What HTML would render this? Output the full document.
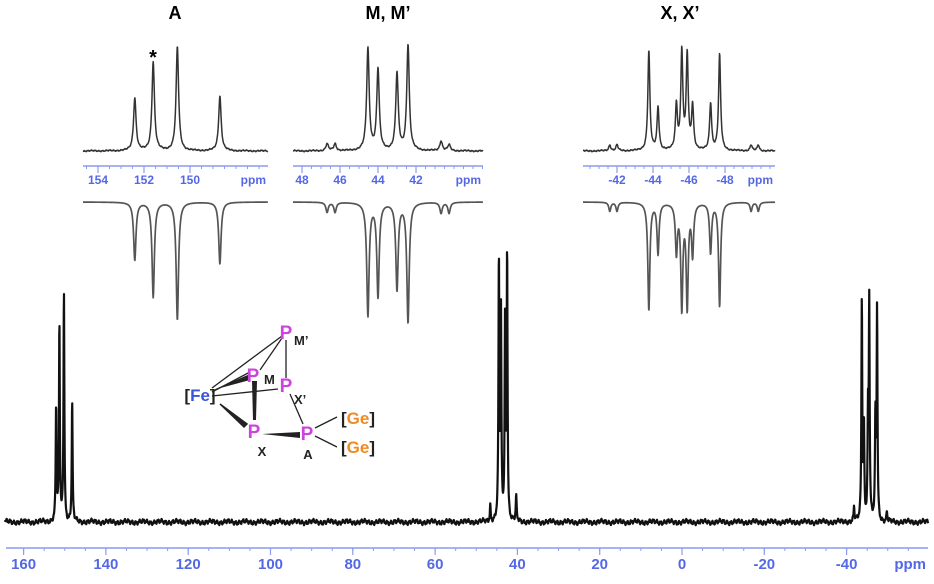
<!DOCTYPE html>
<html><head><meta charset="utf-8"><style>
html,body{margin:0;padding:0;background:#fff;}
svg{display:block;font-family:"Liberation Sans",Arial,sans-serif;}
</style></head><body>
<svg id="chart" width="934" height="584" viewBox="0 0 934 584" xmlns="http://www.w3.org/2000/svg">
<g id="g-main"></g>
<g id="g-insets"></g>
<g id="g-axes"></g>
<text x="175" y="19" font-size="18" font-weight="bold" text-anchor="middle">A</text>
<text x="388" y="19" font-size="18" font-weight="bold" text-anchor="middle">M, M’</text>
<text x="680" y="19" font-size="18" font-weight="bold" text-anchor="middle">X, X’</text>
<text x="153" y="64" font-size="20" font-weight="bold" text-anchor="middle">*</text>
<g stroke="#222" stroke-width="1.3" fill="none">
<line x1="212" y1="388" x2="282" y2="336"/><line x1="260" y1="370" x2="282" y2="338"/><line x1="286" y1="340" x2="286" y2="378"/>
<line x1="212" y1="392" x2="250" y2="372"/><line x1="212" y1="396" x2="278" y2="389"/>
<line x1="290" y1="394" x2="303" y2="424"/><line x1="315" y1="428" x2="337" y2="417"/><line x1="315" y1="436" x2="337" y2="447"/>
<polygon points="213,390 250,374 250,380" fill="#222" stroke="none"/>
<polygon points="252,381 257,381 256,420 253,420" fill="#222" stroke="none"/>
<polygon points="220,404 247,424 244,427" fill="#222" stroke="#222" stroke-width="1.5"/>
<polygon points="262,434 300,432 300,438" fill="#222" stroke="none"/>
</g>
<g font-weight="bold">
<text x="286" y="339" font-size="19" fill="#cc44dd" text-anchor="middle">P</text>
<text x="294" y="345" font-size="13" fill="#222">M’</text>
<text x="253" y="382" font-size="19" fill="#cc44dd" text-anchor="middle">P</text>
<text x="264" y="384" font-size="13" fill="#222">M</text>
<text x="286" y="392" font-size="19" fill="#cc44dd" text-anchor="middle">P</text>
<text x="294" y="404" font-size="13" fill="#222">X’</text>
<text x="254" y="438" font-size="19" fill="#cc44dd" text-anchor="middle">P</text>
<text x="262" y="456" font-size="13" fill="#222" text-anchor="middle">X</text>
<text x="307" y="440" font-size="19" fill="#cc44dd" text-anchor="middle">P</text>
<text x="308" y="459" font-size="13" fill="#222" text-anchor="middle">A</text>
<text x="200" y="401" font-size="17" text-anchor="middle"><tspan fill="#222">[</tspan><tspan fill="#3a55dd">Fe</tspan><tspan fill="#222">]</tspan></text>
<text x="358" y="424" font-size="17" text-anchor="middle"><tspan fill="#222">[</tspan><tspan fill="#f08a24">Ge</tspan><tspan fill="#222">]</tspan></text>
<text x="358" y="453" font-size="17" text-anchor="middle"><tspan fill="#222">[</tspan><tspan fill="#f08a24">Ge</tspan><tspan fill="#222">]</tspan></text>
</g>
</svg>
<script>
// main spectrum data
const mainPpm = [152.1,151.3,150.2,148.2, 46.6,44.5,44.0,43.0,42.5,40.3, -41.8,-43.7,-44.2,-45.2,-45.5,-47.0,-47.4,-49.8];
const mainHeights = [115,197,231,120, 16,260,206,195,271,25, 14,222,94,99,217,101,213,10];
const mainTicks = [160,140,120,100,80,60,40,20,0,-20,-40];
// inset A
const aPpm = [152.4,151.6,150.55,148.7];
const aUpper = [53,89,104,55];
const aLower = [58,95,118,62];
const aTicks = [154,152,150];
// inset M
const mPpm = [46.68,46.26,44.53,44.0,43.0,42.42,40.68,40.26];
const mUpper = [7,7,102,81,77,106,10,6];
const mLower = [10,10,113,94,87,120,11,11];
const mTicks = [48,46,44,42];
// inset X
const xPpm = [-41.6,-42.0,-43.77,-44.28,-45.3,-45.6,-45.9,-46.2,-47.2,-47.7,-49.45,-49.85];
const xUpper = [6,6,100,43,45,98,94,44,47,96,6,6];
const xLower = [9,9,108,51,49,104,103,51,50,104,9,9];
const xTicks = [-42,-44,-46,-48];

const NS="http://www.w3.org/2000/svg";
function mk(tag, attrs, parent){const e=document.createElementNS(NS,tag);for(const k in attrs)e.setAttribute(k,attrs[k]);parent.appendChild(e);return e;}
function scale(p0,x0,p1,x1){const f=p=>x0+(p-p0)*(x1-x0)/(p1-p0);f.inv=x=>p0+(x-x0)*(p1-p0)/(x1-x0);return f;}

function trace(g, sx, xa, xb, base, sign, ppm, hts, hw, noise, step, stroke, sw, name){
  let d="";
  for(let x=xa;x<=xb;x+=step){
    let y=0;
    for(let i=0;i<ppm.length;i++){const dx=x-sx(ppm[i]);y+=hts[i]*hw*hw/(dx*dx+hw*hw);}
    const n=noise?noise*(Math.sin(x*1.7)*0.5+Math.sin(x*4.3+1)*0.35+Math.sin(x*0.37+2)*0.4):0;
    d+=(d?"L":"M")+x.toFixed(2)+","+(base-sign*y+n).toFixed(2);
  }
  const p=mk("path",{d:d,fill:"none",stroke:stroke,"stroke-width":sw,"stroke-linejoin":"round"},g);
  
  
}

function axis(g, sx, xa, xb, y, ticks, minor, fs, name){
  const blue="#5468e6";
  const ax=mk("line",{x1:xa,y1:y,x2:xb,y2:y,stroke:"#8c9aef","stroke-width":1.5},g);
  
  
  const p0=sx.inv(xa),p1=sx.inv(xb);
  const hi=Math.max(p0,p1),lo=Math.min(p0,p1);
  for(let v=Math.ceil(lo/minor)*minor;v<=hi;v+=minor){
    const x=sx(v);
    const t=mk("line",{x1:x,y1:y,x2:x,y2:y+3,stroke:"#8c9aef","stroke-width":1},g);
    
    
  }
  ticks.forEach(v=>{
    const x=sx(v);
    const t=mk("line",{x1:x,y1:y,x2:x,y2:y+7,stroke:"#8c9aef","stroke-width":1.2},g);
    
    
    const tx=mk("text",{x:x,y:y+fs+6,"font-size":fs,"font-weight":"bold",fill:blue,"text-anchor":"middle"},g);
    tx.textContent=String(v);
    
    
  });
  const u=mk("text",{x:xb-2,y:y+fs+6,"font-size":fs,"font-weight":"bold",fill:blue,"text-anchor":"end"},g);
  u.textContent="ppm";
  
  
}

const gm=document.getElementById("g-main"), gi=document.getElementById("g-insets"), ga=document.getElementById("g-axes");
// main
const sMain=scale(0,682,100,682-411.5);
trace(gm,sMain,5,928,522,1,mainPpm,mainHeights,0.5,2.6,0.25,"#111",2.2,"main-trace");
axis(ga,sMain,6,928,548,mainTicks,5,15,"main-axis");
// inset A
const sA=scale(152,144,150,190);
trace(gi,sA,83,268,151,1,aPpm,aUpper,1.5,0.8,0.3,"#333",1.5,"inset-a-upper-trace");
trace(gi,sA,83,268,202,-1,aPpm,aLower,1.4,0,0.3,"#555",1.7,"inset-a-lower-trace");
axis(ga,sA,83,268,166,aTicks,0.5,12,"inset-a-axis");
// inset M
const sM=scale(44,378,42,416);
trace(gi,sM,293,483,151,1,mPpm,mUpper,1.5,0.8,0.3,"#333",1.5,"inset-m-upper-trace");
trace(gi,sM,293,483,202,-1,mPpm,mLower,1.4,0,0.3,"#555",1.7,"inset-m-lower-trace");
axis(ga,sM,293,483,166,mTicks,0.5,12,"inset-m-axis");
// inset X
const sX=scale(-44,653,-46,689);
trace(gi,sX,583,775,151,1,xPpm,xUpper,1.2,0.8,0.3,"#333",1.5,"inset-x-upper-trace");
trace(gi,sX,583,775,202,-1,xPpm,xLower,1.2,0,0.3,"#555",1.7,"inset-x-lower-trace");
axis(ga,sX,583,775,166,xTicks,0.5,12,"inset-x-axis");
</script>
</body></html>
